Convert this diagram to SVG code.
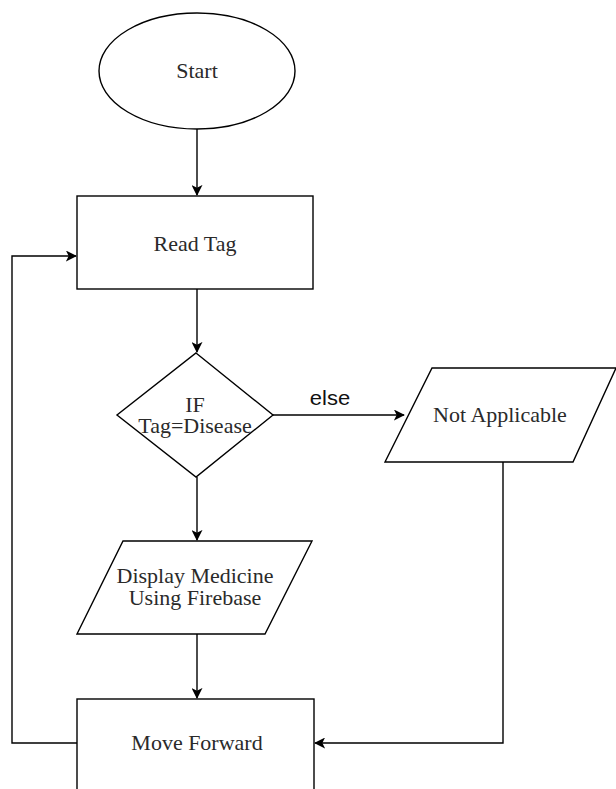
<svg xmlns="http://www.w3.org/2000/svg" width="616" height="789" viewBox="0 0 616 789">
<style>
.s{fill:#fff;stroke:#000;stroke-width:1.4}
.c{fill:none;stroke:#000;stroke-width:1.4}
.t{font-family:"Liberation Serif",serif;font-size:20px;fill:#2a2a2a;text-anchor:middle}
.l{font-family:"Liberation Sans",sans-serif;font-size:20px;fill:#111;text-anchor:middle}
</style>
<defs>
<marker id="a" viewBox="0 0 12 12" refX="11" refY="6" markerWidth="11" markerHeight="11" markerUnits="userSpaceOnUse" orient="auto">
<path d="M0,0 L12,6 L0,12 L3,6 Z" fill="#000"/>
</marker>
</defs>
<rect width="616" height="789" fill="#fff"/>
<g id="connectors">
<path class="c" d="M197,129 V195" marker-end="url(#a)"/>
<path class="c" d="M197,289 V352" marker-end="url(#a)"/>
<path class="c" d="M273,415 H404" marker-end="url(#a)"/>
<path class="c" d="M197,477 V540" marker-end="url(#a)"/>
<path class="c" d="M197,634 V698" marker-end="url(#a)"/>
<path class="c" d="M503,462 V743 H315" marker-end="url(#a)"/>
<path class="c" d="M77,743 H12 V256 H76" marker-end="url(#a)"/>
<text class="l" x="330" y="405" transform="translate(330,0) scale(1.1,1) translate(-330,0)">else</text>
</g>
<g id="start">
<ellipse class="s" cx="197" cy="71" rx="98" ry="58"/>
<text class="t" x="197" y="78" transform="translate(197,0) scale(1.1,1) translate(-197,0)">Start</text>
</g>
<g id="read">
<rect class="s" x="77" y="196" width="236" height="93"/>
<text class="t" x="195" y="251" transform="translate(195,0) scale(1.1,1) translate(-195,0)">Read Tag</text>
</g>
<g id="decision">
<polygon class="s" points="196,353 273,415 196,477 117,415"/>
<text class="t" x="195" y="412" transform="translate(195,0) scale(1.1,1) translate(-195,0)">IF</text>
<text class="t" x="195" y="433" transform="translate(195,0) scale(1.1,1) translate(-195,0)">Tag=Disease</text>
</g>
<g id="notapplicable">
<polygon class="s" points="432,368 616,368 573,462 385,462"/>
<text class="t" x="500" y="422" transform="translate(500,0) scale(1.1,1) translate(-500,0)">Not Applicable</text>
</g>
<g id="display">
<polygon class="s" points="123,541 312,541 265,634 77,634"/>
<text class="t" x="195" y="583" transform="translate(195,0) scale(1.1,1) translate(-195,0)">Display Medicine</text>
<text class="t" x="195" y="605" transform="translate(195,0) scale(1.1,1) translate(-195,0)">Using Firebase</text>
</g>
<g id="move">
<rect class="s" x="77" y="699" width="237" height="100"/>
<text class="t" x="197" y="750" transform="translate(197,0) scale(1.1,1) translate(-197,0)">Move Forward</text>
</g>
</svg>
